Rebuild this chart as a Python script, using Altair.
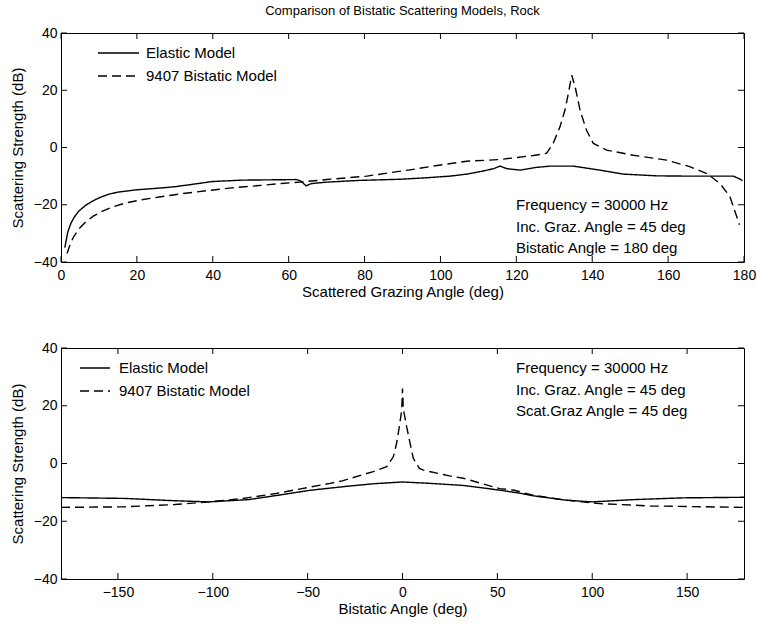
import altair as alt
import pandas as pd

FONT = "Liberation Sans"
SERIES = ["Elastic Model", "9407 Bistatic Model"]
DASHES = [[1, 0], [9, 5]]

# ---- top panel: scattered grazing angle sweep ----
top_elastic_x = [1, 1.8, 2.6, 3.5, 4.7, 6.5, 8.2, 10, 12.6, 15, 19.7, 25.8, 30, 35, 39.8, 47.7,
                 55, 62, 63.2, 64.6, 66, 70, 78.5, 89.3, 96, 102.5, 107, 111.3, 114, 115.7, 117.5,
                 121, 125, 128.9, 135, 142, 148.2, 157, 165, 172, 177.2, 178.9, 179.6]
top_elastic_y = [-35, -29.5, -26.5, -24.3, -22.2, -20.2, -18.8, -17.6, -16.3, -15.6, -14.8, -14.2,
                 -13.7, -12.8, -11.9, -11.4, -11.3, -11.2, -11.7, -13.4, -12.6, -12.1, -11.5, -11.1,
                 -10.6, -10.0, -9.3, -8.2, -7.4, -6.5, -7.4, -7.9, -7.0, -6.5, -6.5, -7.9, -9.3,
                 -9.9, -10.0, -10.0, -10.0, -11.0, -11.6]

top_bistatic_x = [1.6, 2.5, 3.4, 5, 6.5, 8.5, 10.8, 13.5, 17, 21, 25.8, 32, 39, 45, 52.2, 58, 63,
                  70, 80.6, 86.7, 92, 98.1, 106.9, 115.7, 124.5, 126.5, 128, 129.7, 131.5, 132.8,
                  133.7, 134.6, 135.5, 136.8, 138.5, 140.3, 143.8, 150.8, 159.6, 165.7, 170.2,
                  173.7, 176.3, 178.1, 178.8]
top_bistatic_y = [-37, -33.5, -31, -28, -26, -24, -22.3, -20.8, -19.4, -18.3, -17.3, -16.1, -15,
                  -14.1, -13.3, -12.6, -12.1, -11.2, -10, -8.8, -7.8, -6.5, -4.8, -4.2, -2.8,
                  -2.4, -2.0, 1.4, 7.2, 13, 18.8, 25.3, 21.2, 13, 6, 1.4, -0.9, -2.7, -4.4, -6.7,
                  -9.1, -12.6, -17.2, -24.2, -27]

# ---- bottom panel: bistatic angle sweep ----
bot_elastic_x = [-180, -146, -120, -102, -81, -64.6, -49, -29.4, -15, 0, 15, 32, 51, 62, 69, 86,
                 100, 122, 148, 180]
bot_elastic_y = [-11.8, -12.1, -12.9, -13.3, -12.5, -10.9, -9.3, -7.9, -7.0, -6.4, -6.9, -7.6,
                 -9.2, -10.3, -11.2, -12.7, -13.3, -12.5, -11.9, -11.7]

bot_bistatic_x = [-180, -146, -120, -102, -84, -66.7, -49, -38.2, -31.7, -15.4, -8.3, -4.8, -3.1,
                  -1.7, -0.4, 0, 0.4, 2.2, 4, 5.7, 8.9, 11, 24.8, 32, 51.2, 58.4, 68.8, 86.4, 104,
                  130.4, 180]
bot_bistatic_y = [-15.2, -15.0, -14.2, -13.3, -12.1, -10.4, -8.2, -6.9, -6.0, -2.8, -1.1, 2.4,
                  7.0, 12.7, 18.5, 26, 19, 12.7, 7.0, 1.8, -1.7, -2.3, -4.3, -5.1, -8.7, -9.2,
                  -11.0, -12.7, -13.9, -14.7, -15.2]

top_xticks = [0, 20, 40, 60, 80, 100, 120, 140, 160, 180]
bot_xticks = [-150, -100, -50, 0, 50, 100, 150]
yticks = [-40, -20, 0, 20, 40]

top_notes = "Frequency = 30000 Hz\nInc. Graz. Angle = 45 deg\nBistatic Angle = 180 deg"
bot_notes = "Frequency = 30000 Hz\nInc. Graz. Angle = 45 deg\nScat.Graz Angle = 45 deg"

W = 683
TICK = 6
TXT = 15
ONE = alt.Data(values=[{"k": 1}])
YTITLE = "Scattering Strength (dB)"


def series_frame(ex, ey, bx, by):
    a = pd.DataFrame({"x": ex, "y": ey, "s": SERIES[0], "o": range(len(ex))})
    b = pd.DataFrame({"x": bx, "y": by, "s": SERIES[1], "o": range(len(bx))})
    return pd.concat([a, b], ignore_index=True)


def panel(df, xdomain, xticks, xtitle, H, notes, leg, title=None):
    xs = alt.Scale(domain=xdomain, nice=False, zero=False)
    ys = alt.Scale(domain=[-40, 40], nice=False)
    xaxis = alt.Axis(values=xticks, labelFlush=False, labelOverlap=False,
                     labelPadding=6, titlePadding=2)
    yaxis = alt.Axis(values=yticks, labelFlush=False, labelPadding=4, titlePadding=8)

    def X(f):
        return alt.X(f, scale=xs, title=xtitle, axis=xaxis)

    def Y(f):
        return alt.Y(f, scale=ys, title=YTITLE, axis=yaxis)

    lines = alt.Chart(df).mark_line(color="black", strokeWidth=1.4).encode(
        x=X("x:Q"),
        y=Y("y:Q"),
        strokeDash=alt.StrokeDash("s:N", scale=alt.Scale(domain=SERIES, range=DASHES),
                                  legend=None),
        detail="s:N",
        order="o:Q",
    )
    xt = pd.DataFrame({"x": xticks})
    yt = pd.DataFrame({"y": yticks})
    tick_b = alt.Chart(xt).mark_rule(color="black").encode(
        x=X("x:Q"), y=alt.value(H), y2=alt.value(H - TICK))
    tick_t = alt.Chart(xt).mark_rule(color="black").encode(
        x=X("x:Q"), y=alt.value(0), y2=alt.value(TICK))
    tick_l = alt.Chart(yt).mark_rule(color="black").encode(
        y=Y("y:Q"), x=alt.value(0), x2=alt.value(TICK))
    tick_r = alt.Chart(yt).mark_rule(color="black").encode(
        y=Y("y:Q"), x=alt.value(W), x2=alt.value(W - TICK))

    lx0, lx1, tx, ly0, ly1 = leg
    legend_layers = []
    for name, dash, yy in [(SERIES[0], DASHES[0], ly0), (SERIES[1], DASHES[1], ly1)]:
        legend_layers.append(alt.Chart(ONE).mark_rule(color="black", strokeWidth=1.4,
                                                      strokeDash=dash).encode(
            x=alt.value(lx0), x2=alt.value(lx1), y=alt.value(yy)))
        legend_layers.append(alt.Chart(ONE).mark_text(
            align="left", baseline="middle", font=FONT, fontSize=TXT, color="black").encode(
            x=alt.value(tx), y=alt.value(yy), text=alt.value(name)))

    nx, ny = notes[1], notes[2]
    note = alt.Chart(ONE).mark_text(
        align="left", baseline="middle", font=FONT, fontSize=TXT, color="black",
        lineBreak="\n", lineHeight=21.5).encode(
        x=alt.value(nx), y=alt.value(ny), text=alt.value(notes[0]))

    props = dict(width=W, height=H)
    if title is not None:
        props["title"] = alt.TitleParams(title, font=FONT, fontSize=13, fontWeight="normal",
                                         color="black", anchor="middle", frame="group",
                                         offset=8)
    return alt.layer(lines, tick_b, tick_t, tick_l, tick_r, *legend_layers, note).properties(
        **props)


top_df = series_frame(top_elastic_x, top_elastic_y, top_bistatic_x, top_bistatic_y)
bot_df = series_frame(bot_elastic_x, bot_elastic_y, bot_bistatic_x, bot_bistatic_y)

top = panel(top_df, [0, 180], top_xticks, "Scattered Grazing Angle (deg)", 229,
            (top_notes, 455, 172), (37, 78, 85, 20, 43),
            title="Comparison of Bistatic Scattering Models, Rock")
bot = panel(bot_df, [-180, 180], bot_xticks, "Bistatic Angle (deg)", 231,
            (bot_notes, 455, 20), (19, 49, 58, 20, 43))

chart = alt.vconcat(top, bot, spacing=40).properties(
    padding={"left": 9, "top": 4, "right": 0, "bottom": 0},
    background="white",
).configure_view(stroke="black", strokeWidth=1).configure_axis(
    labelFont=FONT, titleFont=FONT, labelFontSize=14, titleFontSize=15,
    titleFontWeight="normal", labelColor="black", titleColor="black",
    grid=False, ticks=False, domain=False,
)

chart.save("out.html", embed_options={"renderer": "svg", "actions": False})
